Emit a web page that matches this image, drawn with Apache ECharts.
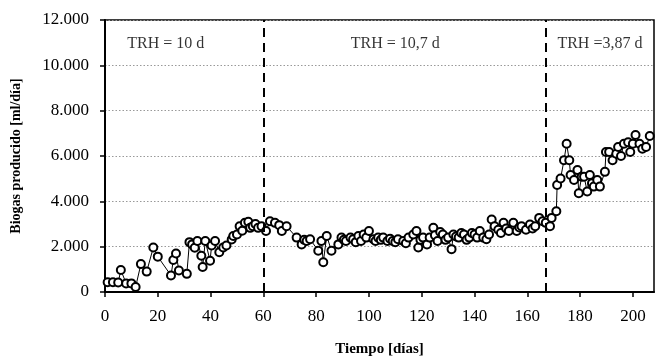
<!DOCTYPE html>
<html>
<head>
<meta charset="utf-8">
<script src="https://cdn.jsdelivr.net/npm/echarts@6/dist/echarts.min.js"></script>
<style>
html,body{margin:0;padding:0;background:#fff;}
#c{width:660px;height:362px;}
</style>
</head>
<body>
<div id="c"></div>
<script>
// Data
const days = [1, 3, 5, 6, 8, 10, 11.6, 13.6, 15.8, 18.3, 20, 25, 25.9, 26.9, 28, 31, 32, 33, 34, 35, 36.5, 37, 38, 39.8, 40.4, 41.7, 43.3, 44.8, 46, 48, 48.6, 50, 51, 52, 53, 54.3, 55, 56, 57, 58, 59.3, 61, 62.5, 64.4, 66, 67, 68.8, 72.6, 74.5, 75.5, 76.4, 77.7, 80.8, 82, 82.7, 84, 85.8, 88.4, 89.6, 90.5, 91.3, 93, 94, 95, 96, 97, 98, 99, 100, 101.7, 102.5, 103.5, 104.5, 105.4, 107, 108, 109, 110, 111, 113, 114, 115, 116.8, 118, 118.7, 119.5, 120.5, 122, 123, 124.4, 125, 126, 127, 128, 129, 130, 131.3, 132, 133, 134, 135, 136, 137, 138, 139, 140, 141, 142, 143.3, 144.5, 145.5, 146.5, 147.6, 149, 150, 151, 152, 153, 154.7, 156, 157, 157.8, 159.5, 161, 162, 163, 164.5, 165.8, 167, 168.6, 169.2, 171, 171.3, 172.6, 173.9, 174.9, 175.9, 176.4, 177.7, 179, 179.5, 180.6, 181.5, 182.7, 183.7, 184.5, 185.2, 186.5, 187.5, 189.4, 189.8, 191, 192.3, 193.7, 194.4, 195.5, 196.6, 198.2, 199, 200, 201, 202.5, 203.6, 205, 206.4];
const biogas = [430, 430, 420, 970, 380, 380, 220, 1230, 900, 1960, 1560, 730, 1410, 1700, 950, 800, 2200, 2100, 1950, 2250, 1600, 1100, 2250, 1380, 2050, 2250, 1750, 1960, 2050, 2320, 2470, 2540, 2900, 2700, 3050, 3100, 2830, 2900, 3000, 2830, 2900, 2690, 3120, 3050, 2950, 2690, 2900, 2400, 2100, 2300, 2250, 2330, 1820, 2250, 1310, 2470, 1820, 2100, 2400, 2300, 2250, 2400, 2330, 2200, 2470, 2250, 2540, 2400, 2690, 2330, 2250, 2400, 2300, 2400, 2250, 2350, 2250, 2200, 2330, 2250, 2150, 2400, 2540, 2690, 1960, 2300, 2400, 2100, 2400, 2830, 2500, 2250, 2650, 2540, 2300, 2400, 1890, 2540, 2450, 2400, 2600, 2540, 2300, 2400, 2600, 2540, 2400, 2690, 2400, 2330, 2540, 3200, 2900, 2750, 2600, 3050, 2800, 2690, 3050, 2690, 2850, 2900, 2750, 2980, 2800, 2900, 3270, 3120, 3050, 2900, 3270, 3560, 4720, 5010, 5810, 6540, 5810, 5160, 4940, 5380, 4360, 5090, 5090, 4430, 5160, 4800, 4650, 4940, 4650, 5300, 6180, 6180, 5810, 6100, 6400, 6000, 6540, 6610, 6180, 6540, 6930, 6540, 6320, 6400, 6880];
const phaseBoundaries = [60, 167];
const phaseLabels = ['TRH = 10 d', 'TRH = 10,7 d', 'TRH =3,87 d'];
const phaseLabelDays = [23, 110, 187.5];
const phaseLabelValue = 10950;
const xTicks = [0, 20, 40, 60, 80, 100, 120, 140, 160, 180, 200];
const yTicks = [0, 2000, 4000, 6000, 8000, 10000, 12000];
const xTitle = 'Tiempo [días]';
const yTitle = 'Biogas producido [ml/día]';

const serif = '"Liberation Serif", "DejaVu Serif", serif';
function fmtThousands(v){
  if (v === 0) return '0';
  const s = String(Math.round(v));
  return s.replace(/\B(?=(\d{3})+(?!\d))/g, '.');
}

const chart = echarts.init(document.getElementById('c'), null, {renderer:'canvas'});
chart.setOption({
  animation:false,
  backgroundColor:'#fff',
  grid:{left:105, right:6, top:20, bottom:64, show:true, borderColor:'#000', borderWidth:1.5},
  xAxis:{
    type:'value', min:0, max:208, interval:20,
    name:xTitle, nameLocation:'middle', nameGap:50,
    nameTextStyle:{fontFamily:serif, fontWeight:'bold', fontSize:15, color:'#000'},
    axisLine:{show:true, onZero:false, lineStyle:{color:'#000', width:2}},
    axisTick:{show:true, length:5, lineStyle:{color:'#000', width:1.5}},
    axisLabel:{fontFamily:serif, fontSize:17, color:'#000', margin:16, showMaxLabel:false,
      formatter:(v)=> xTicks.includes(v) ? String(v) : ''},
    splitLine:{show:false}
  },
  yAxis:{
    type:'value', min:0, max:12000, interval:2000,
    name:yTitle, nameLocation:'middle', nameGap:82, nameRotate:90,
    nameTextStyle:{fontFamily:serif, fontWeight:'bold', fontSize:14, color:'#000'},
    axisLine:{show:true, lineStyle:{color:'#000', width:2}},
    axisTick:{show:true, length:5, lineStyle:{color:'#000', width:1.5}},
    axisLabel:{fontFamily:serif, fontSize:17, color:'#000', margin:16,
      formatter:(v)=> yTicks.includes(v) ? fmtThousands(v) : ''},
    splitLine:{show:true, lineStyle:{color:'#999', type:[1.5,2], width:1}}
  },
  series:[
    {
      type:'line',
      data: days.map((d,i)=>[d, biogas[i]]),
      symbol:'circle', symbolSize:8,
      clip:false,
      lineStyle:{color:'#000', width:1},
      itemStyle:{color:'#fff', borderColor:'#000', borderWidth:2},
      markLine:{
        silent:true, symbol:'none', animation:false,
        lineStyle:{color:'#000', type:[9,6], width:2},
        label:{show:false},
        data: phaseBoundaries.map(b=>({xAxis:b}))
      },
      z:3
    },
    {
      type:'scatter',
      data: phaseLabelDays.map((d,i)=>[d, phaseLabelValue]),
      symbolSize:0,
      label:{show:true, position:'inside', formatter:(p)=>phaseLabels[p.dataIndex],
        fontFamily:serif, fontSize:16, color:'#000'},
      silent:true
    }
  ]
});
</script>
</body>
</html>
